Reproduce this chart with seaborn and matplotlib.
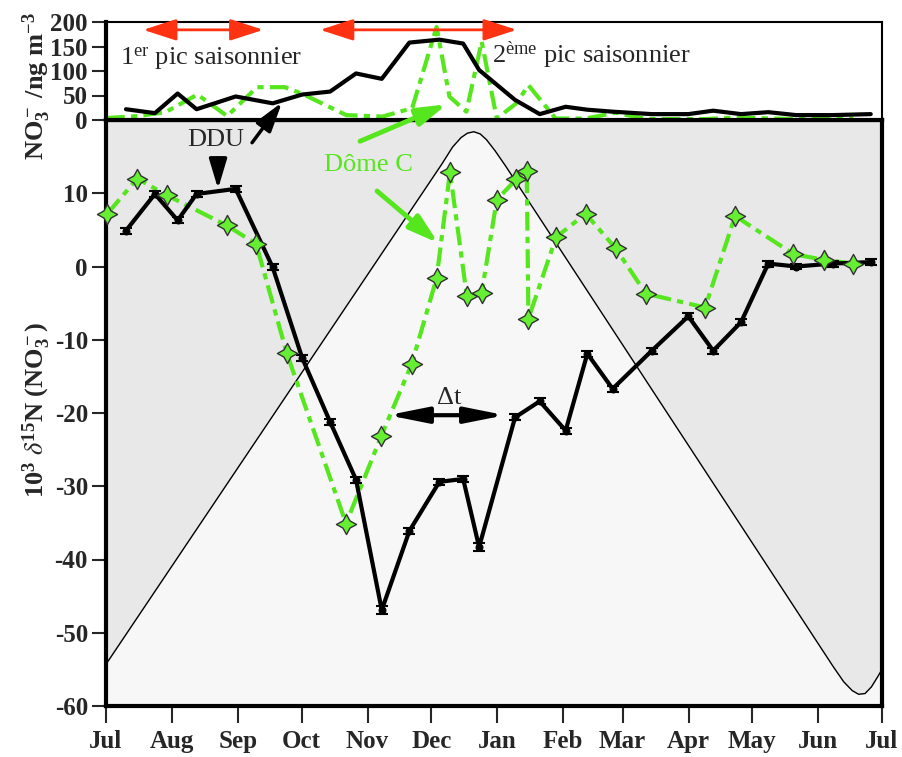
import matplotlib
matplotlib.use("Agg")
import matplotlib.pyplot as plt
import seaborn as sns

# days counted from 1 July
month_ticks = [0, 31, 62, 92, 123, 153, 184, 215, 243, 274, 304, 335, 365]
month_labels = ["Jul", "Aug", "Sep", "Oct", "Nov", "Dec", "Jan", "Feb", "Mar", "Apr", "May", "Jun", "Jul"]

# DDU: d15N and NO3- concentration (same sampling days)
ddu_day = [9.4, 23, 33.7, 42.6, 61, 78.4, 92.3, 105.4, 117.6, 129.7, 142.7, 156.8, 168, 175.5,
           192.4, 204, 216.2, 226.4, 238.3, 256.7, 273.9, 285.6, 298.7, 311.5, 324.6, 341.8, 359.7]
ddu_d15n = [4.9, 9.9, 6.3, 9.9, 10.6, -0.1, -12.5, -21.2, -29.1, -46.9, -36.1, -29.4, -29.0, -38.3,
            -20.6, -18.4, -22.4, -11.9, -16.7, -11.5, -6.8, -11.5, -7.6, 0.4, 0.0, 0.4, 0.6]
ddu_err = [0.4, 0.4, 0.4, 0.4, 0.4, 0.4, 0.4, 0.4, 0.4, 0.5, 0.4, 0.4, 0.4, 0.5,
           0.4, 0.4, 0.4, 0.4, 0.4, 0.4, 0.4, 0.4, 0.4, 0.4, 0.4, 0.4, 0.4]
ddu_no3 = [22, 14, 54, 22, 48, 34, 52, 58, 95, 84, 158, 164, 156, 102,
           41, 12, 27, 21, 17, 12, 12, 19, 12, 16, 10, 10, 12]

# Dome C: d15N
domec_day = [0.6, 14.7, 28.8, 56.8, 70.6, 85, 112.9, 129.4, 143.8, 155.5, 161.8, 169.7, 176.7,
             183.8, 192.9, 197.9, 198.7, 211.7, 225.6, 239.7, 253.9, 281.8, 295.9, 323.3, 337.7, 351.5]
domec_d15n = [7.2, 12.0, 9.7, 5.6, 3.1, -11.8, -35.1, -23.2, -13.3, -1.6, 12.9, -4.0, -3.6,
              9.1, 11.9, 13.1, -7.1, 4.0, 7.2, 2.5, -3.7, -5.6, 6.9, 1.7, 0.9, 0.4]

# Dome C: NO3- concentration
domec_no3_day = [0, 15, 28, 43, 57, 71, 84, 92, 113, 130, 144, 155.5, 161.5, 169.5, 176.7,
                 183.8, 193, 198.7, 211.5, 225.6, 239.7, 254, 282, 296, 323, 338, 351.5]
domec_no3 = [4, 8, 16, 52, 8, 67, 67, 54, 10, 7, 24, 190, 48, 17, 160,
             3, 34, 71, 3, 3, 15, 2, 2, 5, 2, 2, 3]

# background curve
sun_day = [0, 158, 163, 167, 170, 173, 176, 179, 183, 188, 342, 347, 351, 354, 357, 360, 363, 365]
sun_val = [-54.3, 14.0, 16.3, 17.6, 18.2, 18.4, 18.1, 17.3, 15.8, 13.7, -54.6, -56.7, -57.9,
           -58.4, -58.3, -57.4, -56.0, -55.0]

GREEN = "#55e61e"
STAR = "#66ee33"
RED = "#ff3311"

sns.set_theme(style="white")
plt.rcParams["font.family"] = ["Liberation Serif", "DejaVu Serif"]
plt.rcParams["mathtext.fontset"] = "stix"
plt.rcParams["mathtext.default"] = "regular"
plt.rcParams["axes.unicode_minus"] = False

fig = plt.figure(figsize=(9.02, 7.57), dpi=100)
ax_bot = fig.add_axes([106 / 902, 51 / 757, 776 / 902, 586 / 757])
ax_top = fig.add_axes([106 / 902, 637 / 757, 776 / 902, 98 / 757])

# ---- bottom panel
ax_bot.set_facecolor("#e8e8e8")
ax_bot.fill_between(sun_day, -60, sun_val, color="#f7f7f7", zorder=0, lw=0)
sns.lineplot(x=sun_day, y=sun_val, ax=ax_bot, color="black", lw=1, sort=False, zorder=1)

sns.lineplot(x=domec_day, y=domec_d15n, ax=ax_bot, color=GREEN, lw=3, sort=False,
             linestyle=(0, (4.5, 1.5, 1.5, 1.5)), zorder=2)
sns.lineplot(x=ddu_day, y=ddu_d15n, ax=ax_bot, color="black", lw=3, sort=False,
             marker="o", ms=5, mec="black", zorder=3)
ax_bot.errorbar(ddu_day, ddu_d15n, yerr=ddu_err, fmt="none", ecolor="black",
                elinewidth=1.5, capsize=4, capthick=1.5, zorder=3)
sns.scatterplot(x=domec_day, y=domec_d15n, ax=ax_bot, marker=(4, 1, 0), s=210, color=STAR,
                edgecolor="#333333", linewidth=1, zorder=5, clip_on=False)

ax_bot.set_xlim(0, 365)
ax_bot.set_ylim(-60, 20)
ax_bot.set_xticks(month_ticks)
ax_bot.set_xticklabels(month_labels, fontsize=18, fontweight="bold")
yt = [-60, -50, -40, -30, -20, -10, 0, 10]
ax_bot.set_yticks(yt)
ax_bot.set_yticklabels([str(v) for v in yt], fontsize=18, fontweight="bold")
ax_bot.tick_params(axis="y", direction="out", length=10, width=1.5, pad=3, left=True)
ax_bot.tick_params(axis="x", direction="out", length=12, width=1.5, pad=5, bottom=True)
ax_bot.set_xlabel("")
ax_bot.set_ylabel("")
for side in ["left", "bottom", "right", "top"]:
    ax_bot.spines[side].set_color("black")
    ax_bot.spines[side].set_linewidth(3)

# ---- top panel
ax_top.set_facecolor("white")
sns.lineplot(x=domec_no3_day, y=domec_no3, ax=ax_top, color=GREEN, lw=3, sort=False,
             linestyle=(0, (4.5, 1.5, 1.5, 1.5)))
sns.lineplot(x=ddu_day, y=ddu_no3, ax=ax_top, color="black", lw=3, sort=False)
ax_top.set_xlim(0, 365)
ax_top.set_ylim(0, 200)
ax_top.set_xticks([])
ax_top.set_yticks([0, 50, 100, 150, 200])
ax_top.set_yticklabels(["0", "50", "100", "150", "200"], fontsize=18, fontweight="bold")
ax_top.tick_params(axis="y", direction="out", length=10, width=1.5, pad=3, left=True)
ax_top.set_xlabel("")
ax_top.set_ylabel("")
for side in ["left", "bottom"]:
    ax_top.spines[side].set_color("black")
    ax_top.spines[side].set_linewidth(3)
for side in ["top", "right"]:
    ax_top.spines[side].set_color("black")
    ax_top.spines[side].set_linewidth(1.5)

# ---- labels
fig.text(37 / 902, 1 - 410 / 757, r"10$^3$ $\mathit{\delta}^{15}$N (NO$_3^-$)", rotation=90,
         fontsize=19, fontweight="bold", ha="center", va="center")
fig.text(37 / 902, 1 - 86 / 757, r"NO$_3^-$ /ng m$^{-3}$", rotation=90,
         fontsize=19, fontweight="bold", ha="center", va="center")

# ---- annotations
ax_top.text(6.6, 126, r"1$^{er}$ pic saisonnier", fontsize=19, ha="left", va="center")
ax_top.text(181.4, 132, r"2$^{ème}$ pic saisonnier", fontsize=19, ha="left", va="center")
red_style = "<|-|>,head_length=1.7,head_width=0.55"
ax_top.annotate("", xy=(74, 184), xytext=(17.5, 184),
                arrowprops=dict(arrowstyle=red_style, color=RED, lw=2, shrinkA=0, shrinkB=0))
ax_top.annotate("", xy=(193.2, 184), xytext=(100.7, 184),
                arrowprops=dict(arrowstyle=red_style, color=RED, lw=2, shrinkA=0, shrinkB=0))

head = "-|>,head_length=1.5,head_width=0.45"
ax_bot.text(51.7, 17.3, "DDU", fontsize=19, ha="center", va="center")
ax_bot.annotate("", xy=(52.7, 10.6), xytext=(52.7, 14.8),
                arrowprops=dict(arrowstyle=head, color="black", lw=2.5, shrinkA=0, shrinkB=0))
ax_top.annotate("", xy=(82.8, 36), xycoords="data", xytext=(68.7, 16.9),
                textcoords=ax_bot.transData, annotation_clip=False,
                arrowprops=dict(arrowstyle=head, color="black", lw=2.5, shrinkA=0, shrinkB=0))

ax_bot.text(123.3, 13.8, "Dôme C", fontsize=19, color=GREEN, ha="center", va="center")
ax_top.annotate("", xy=(160.3, 32), xycoords="data", xytext=(119.5, 17.1),
                textcoords=ax_bot.transData, annotation_clip=False,
                arrowprops=dict(arrowstyle=head, color=GREEN, lw=3.5, shrinkA=0, shrinkB=0))
ax_bot.annotate("", xy=(156.3, 3.2), xytext=(127.5, 10.3),
                arrowprops=dict(arrowstyle=head, color=GREEN, lw=3.5, shrinkA=0, shrinkB=0))

ax_bot.text(161.3, -18.0, "Δt", fontsize=19, ha="center", va="center")
ax_bot.annotate("", xy=(187.7, -20.3), xytext=(132.6, -20.3),
                arrowprops=dict(arrowstyle="<|-|>,head_length=2.0,head_width=0.4",
                                color="black", lw=3, shrinkA=0, shrinkB=0))

fig.savefig("out.png", dpi=100)
